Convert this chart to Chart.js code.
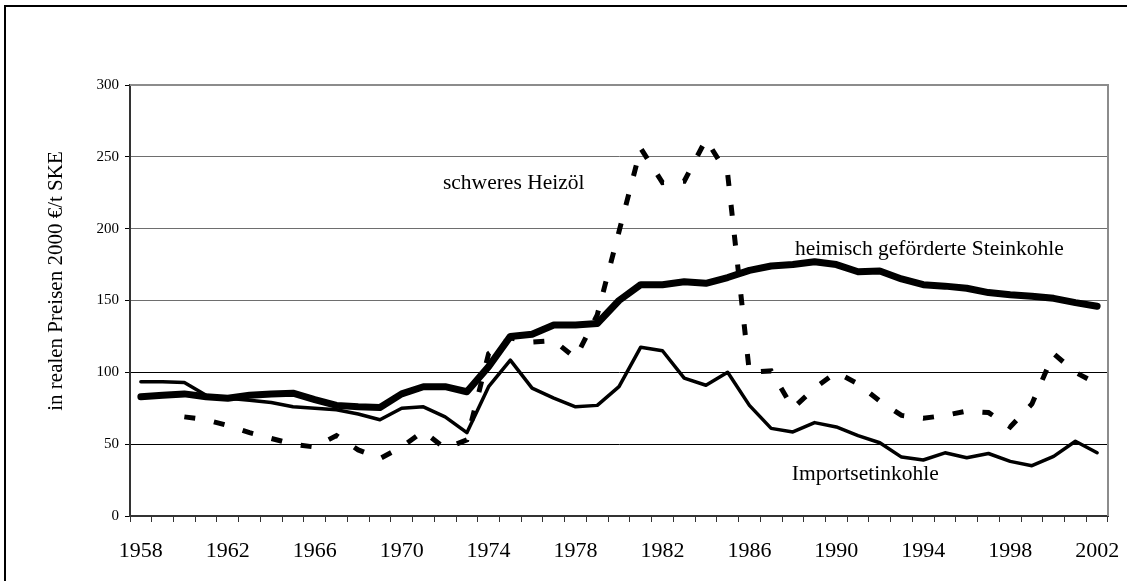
<!DOCTYPE html>
<html>
<head>
<meta charset="utf-8">
<title>Preise Steinkohle und Heizöl</title>
<script src="https://cdn.jsdelivr.net/npm/chart.js@4.4.1/dist/chart.umd.min.js"></script>
<style>
  html, body { margin: 0; padding: 0; background: #fff; }
  canvas { display: block; }
</style>
</head>
<body>
<canvas id="chart" width="1127" height="581"></canvas>
<script>
// Years (categories)
const years = [
  1958, 1959, 1960, 1961, 1962, 1963, 1964, 1965, 1966, 1967,
  1968, 1969, 1970, 1971, 1972, 1973, 1974, 1975, 1976, 1977,
  1978, 1979, 1980, 1981, 1982, 1983, 1984, 1985, 1986, 1987,
  1988, 1989, 1990, 1991, 1992, 1993, 1994, 1995, 1996, 1997,
  1998, 1999, 2000, 2001, 2002
];

// Year labels shown under the axis
const tickLabels = ["1958", "1962", "1966", "1970", "1974", "1978", "1982", "1986", "1990", "1994", "1998", "2002"];

// Y axis ticks
const yTicks = [0, 50, 100, 150, 200, 250, 300];

// schweres Heizöl (dashed)
const heizoel = [
  null, null, 69, 67, 63, 58, 54, 50, 48, 56,
  46, 40, 48, 59, 47, 53, 113, 124, 121, 122,
  110, 140, 198, 256, 232, 233, 262, 238, 100, 101,
  75, 89, 100, 92, 80, 70, 68, 70, 73, 72,
  62, 78, 113, 100, 92
];

// heimisch geförderte Steinkohle (thick)
const steinkohle = [
  83, 84, 85, 83, 82, 84, 85, 85.5, 81, 77,
  76, 75.5, 85, 90, 90, 86.5, 104, 125, 126.5, 133,
  133, 134, 150, 161, 161, 163, 162, 166, 171, 174,
  175, 177, 175, 170, 170.5, 165, 161, 160, 158.5, 155.5,
  154, 153, 151.5, 148.5, 146
];

// Importsteinkohle (thin)
const importkohle = [
  93.5, 93.5, 93, 84, 82, 80.5, 79, 76, 75, 74,
  71, 67, 75, 76, 69, 58, 90, 108.5, 89, 82,
  76, 77, 90, 117.5, 115, 96, 91, 100, 77, 61,
  58.5, 65, 62, 56, 51, 41, 39, 44, 40.5, 43.5,
  38, 35, 41.5, 52, 44
];

// Text labels in the plot (x = category index, y = value)
const seriesLabels = [
  { text: "schweres Heizöl", x: 13.9, y: 227.5 },
  { text: "heimisch geförderte Steinkohle", x: 30.1, y: 181.4 },
  { text: "Importsetinkohle", x: 29.95, y: 24.9 }
];

const serif = "'Liberation Serif', 'Times New Roman', serif";

//Frame, plot border, axis title and labels
const decorations = {
  id: "decorations",
  beforeDraw(chart) {
    const ctx = chart.ctx;
    ctx.save();
    ctx.fillStyle = "#fff";
    ctx.fillRect(0, 0, chart.width, chart.height);
    ctx.strokeStyle = "#000";
    ctx.lineWidth = 2;
    ctx.strokeRect(5, 6, chart.width + 10, chart.height + 10);
    ctx.restore();
  },
  afterDraw(chart) {
    const ctx = chart.ctx;
    const area = chart.chartArea;
    ctx.save();

    // top and right border of the plot
    ctx.strokeStyle = "#8c8c8c";
    ctx.lineWidth = 2;
    ctx.beginPath();
    ctx.moveTo(area.left, area.top);
    ctx.lineTo(area.right, area.top);
    ctx.lineTo(area.right, area.bottom);
    ctx.stroke();

    // y axis title
    ctx.fillStyle = "#000";
    ctx.font = "21px " + serif;
    ctx.textAlign = "center";
    ctx.textBaseline = "alphabetic";
    ctx.translate(61.5, 281);
    ctx.rotate(-Math.PI / 2);
    ctx.fillText("in realen Preisen 2000 €/t SKE", 0, 0);
    ctx.restore();

    // series labels
    ctx.save();
    ctx.fillStyle = "#000";
    ctx.font = "21.5px " + serif;
    ctx.textAlign = "left";
    ctx.textBaseline = "alphabetic";
    const xs = chart.scales.x;
    const ys = chart.scales.y;
    seriesLabels.forEach((l) => {
      ctx.fillText(l.text, xs.getPixelForValue(l.x), ys.getPixelForValue(l.y));
    });
    ctx.restore();
  }
};

new Chart(document.getElementById("chart"), {
  type: "line",
  data: {
    labels: years,
    datasets: [
      {
        label: "schweres Heizöl",
        data: heizoel,
        borderColor: "#000",
        borderWidth: 5,
        borderDash: [11, 19],
        borderCapStyle: "butt",
        pointRadius: 0,
        tension: 0
      },
      {
        label: "heimisch geförderte Steinkohle",
        data: steinkohle,
        borderColor: "#000",
        borderWidth: 7,
        borderCapStyle: "round",
        borderJoinStyle: "round",
        pointRadius: 0,
        tension: 0
      },
      {
        label: "Importsteinkohle",
        data: importkohle,
        borderColor: "#000",
        borderWidth: 3.5,
        borderCapStyle: "round",
        borderJoinStyle: "round",
        pointRadius: 0,
        tension: 0
      }
    ]
  },
  options: {
    responsive: false,
    animation: false,
    layout: { padding: { top: 85, right: 19, left: 0, bottom: 0 } },
    plugins: {
      legend: { display: false },
      tooltip: { enabled: false }
    },
    scales: {
      x: {
        offset: true,
        afterFit: (axis) => {
          axis.height = 65;
          axis.paddingLeft = 0;
          axis.paddingRight = 0;
        },
        border: { display: true, color: "#333", width: 2 },
        grid: { offset: true, drawOnChartArea: false, drawTicks: true, tickLength: 6, color: "#333" },
        ticks: {
          autoSkip: false,
          maxRotation: 0,
          padding: 16,
          color: "#000",
          font: { family: serif, size: 22 },
          callback: function (value, index) {
            const y = String(years[index]);
            return tickLabels.includes(y) ? y : "";
          }
        }
      },
      y: {
        min: 0,
        max: 300,
        afterBuildTicks: (axis) => { axis.ticks = yTicks.map((v) => ({ value: v })); },
        afterFit: (axis) => {
          axis.width = 130;
          axis.paddingTop = 0;
          axis.paddingBottom = 0;
        },
        border: { display: true, color: "#333", width: 2 },
        grid: {
          drawTicks: true,
          tickLength: 5,
          tickColor: "#000",
          lineWidth: 1,
          color: (c) => (c.tick && c.tick.value >= 150 ? "#6e6e6e" : "#000")
        },
        ticks: {
          padding: 6,
          color: "#000",
          font: { family: serif, size: 15 }
        }
      }
    }
  },
  plugins: [decorations]
});
</script>
</body>
</html>
